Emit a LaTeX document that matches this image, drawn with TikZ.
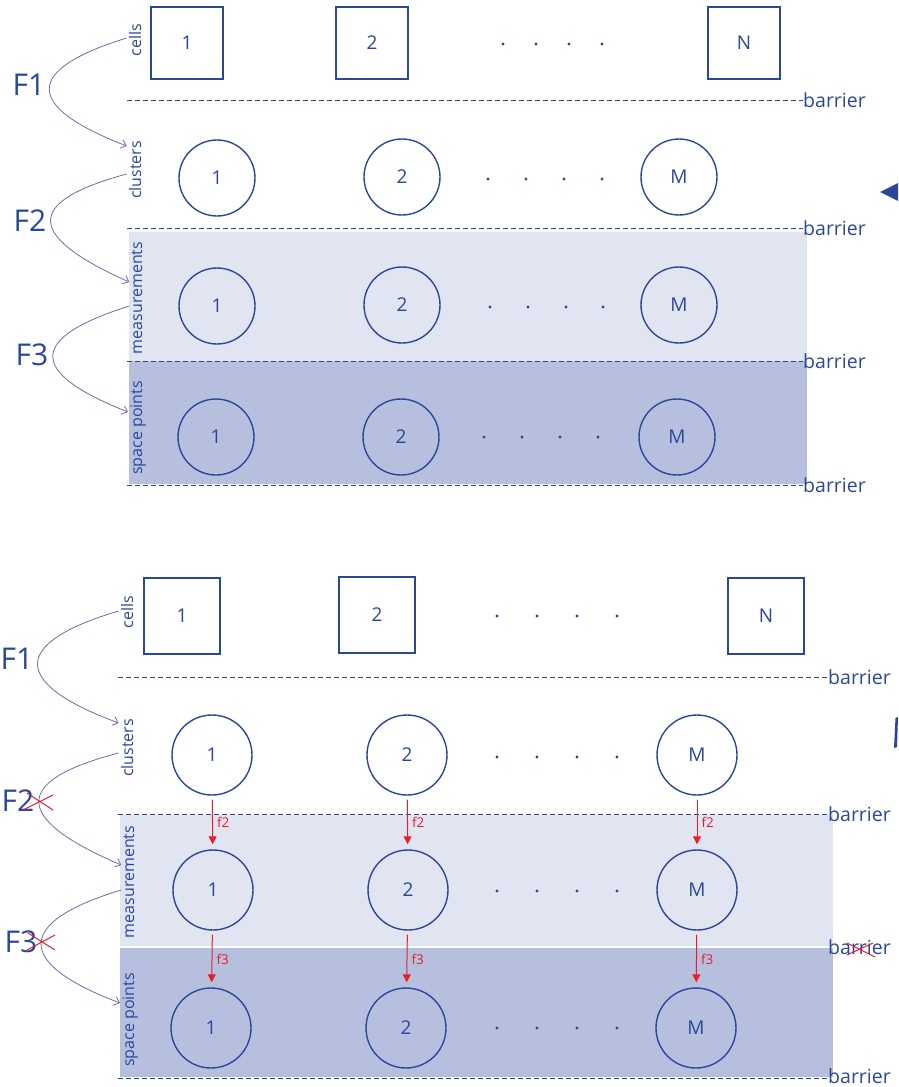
\documentclass[tikz,border=0pt]{standalone}
\usepackage{fontspec}
\setmainfont{Open Sans}
\usetikzlibrary{arrows.meta,calc}
\definecolor{ink}{RGB}{42,72,155}
\definecolor{flow}{RGB}{100,114,170}
\definecolor{bandlight}{RGB}{225,229,241}
\definecolor{banddark}{RGB}{182,192,222}
\definecolor{alert}{RGB}{232,30,40}
\newcommand{\fsz}[1]{\fontsize{#1}{#1}\selectfont}

\begin{document}
\begin{tikzpicture}[x=1pt,y=-1pt,
  every node/.style={text=ink, inner sep=0pt},
  cellbox/.style={draw=ink, line width=1.4pt, minimum size=#1, font=\fsz{19}},
  ring/.style={draw=ink, line width=1.4pt, circle, minimum size=#1, font=\fsz{19}},
  rowlabel/.style={rotate=90, anchor=base, inner sep=2pt, font=\fsz{16}},
  flowname/.style={font=\fsz{30}},
  barrierline/.style={draw=ink, line width=0.9pt, dash pattern=on 5pt off 3pt},
  barriertext/.style={anchor=west, font=\fsz{19.5}},
  flowarrow/.style={draw=flow, line width=0.8pt, -{Straight Barb[length=5pt,width=9pt]}},
  fixarrow/.style={draw=alert, line width=1pt, -{Triangle[length=8pt,width=8pt]}, shorten <=4pt, shorten >=5pt},
  fixtext/.style={text=alert, font=\fsz{13.5}, right=4pt},
  dotmark/.style={fill=ink, circle, inner sep=0pt, minimum size=3.2pt},
  strike/.style={draw=alert, line width=1pt},
]
\useasboundingbox (0,0) rectangle (898,1087);

% ---------- upper panel ----------
\fill[bandlight] (129,232) rectangle (807,361);
\fill[banddark]  (129,361) rectangle (807,484);

\node[rowlabel] (ulc) at (141,40)  {cells};
\node[rowlabel] (ulk) at (141,170) {clusters};
\node[rowlabel] (ulm) at (142,298) {measurements};
\node[rowlabel] (uls) at (142,428) {space points};

\node[cellbox=72pt] (uc1) at (187,43)  {1};
\node[cellbox=72pt] (uc2) at (372,43)  {2};
\node[cellbox=72pt] (ucN) at (744,43)  {N};
\foreach \x in {503,536,569,602} \node[dotmark] at (\x,44) {};

\node[ring=76pt] (uk1) at (217,178) {1};
\node[ring=76pt] (uk2) at (402,177) {2};
\node[ring=76pt] (ukM) at (679,177) {M};
\foreach \x in {488,526,564,602} \node[dotmark] at (\x,179) {};

\node[ring=76pt] (um1) at (217,306) {1};
\node[ring=76pt] (um2) at (402,305) {2};
\node[ring=76pt] (umM) at (679,305) {M};
\foreach \x in {490,528,566,603} \node[dotmark] at (\x,307) {};

\node[ring=76pt] (us1) at (216,437) {1};
\node[ring=76pt] (us2) at (401,437) {2};
\node[ring=76pt] (usM) at (677,437) {M};
\foreach \x in {484,522,560,598} \node[dotmark] at (\x,437) {};

\foreach \y/\n in {100/ub1,228/ub2,361/ub3,485/ub4}{
  \node[barriertext] (\n) at (803,\y) {barrier};
  \coordinate (\n s) at (127,\y);
  \draw[barrierline] (\n s) -- (\n.west);
}

\node[flowname] (uF1) at (29,85)  {F1};
\node[flowname] (uF2) at (30,221) {F2};
\node[flowname] (uF3) at (32,355) {F3};

\draw[flowarrow] ([yshift=2pt]ulc.north) .. controls +(-103,32) and +(-103,-40) .. ([yshift=24pt]ulk.north);
\draw[flowarrow] ([yshift=-4pt]ulk.north) .. controls +(-103,28) and +(-103,-46) .. ([yshift=16pt]ulm.north);
\draw[flowarrow] ([yshift=-8pt]ulm.north) .. controls +(-101,32) and +(-101,-40) .. ([yshift=16pt]uls.north);

\fill[ink] (880,192) -- (898,183) -- (898,201) -- cycle;

% ---------- lower panel ----------
\fill[bandlight] (120,815) rectangle (833,946);
\fill[banddark]  (120,948) rectangle (833,1077);

\node[rowlabel] (llc) at (133,612)  {cells};
\node[rowlabel] (llk) at (133,748)  {clusters};
\node[rowlabel] (llm) at (134,882)  {measurements};
\node[rowlabel] (lls) at (134,1020) {space points};

\node[cellbox=76pt] (lc1) at (182,616) {1};
\node[cellbox=76pt] (lc2) at (377,615) {2};
\node[cellbox=76pt] (lcN) at (766,616) {N};
\foreach \x in {497,537,577,617} \node[dotmark] at (\x,616) {};

\node[ring=80pt] (lk1) at (212,755) {1};
\node[ring=80pt] (lk2) at (407,755) {2};
\node[ring=80pt] (lkM) at (697,755) {M};
\foreach \x in {497,537,577,617} \node[dotmark] at (\x,757) {};

\node[ring=80pt] (lm1) at (213,890) {1};
\node[ring=80pt] (lm2) at (408,890) {2};
\node[ring=80pt] (lmM) at (697,890) {M};
\foreach \x in {497,537,577,617} \node[dotmark] at (\x,891) {};

\node[ring=80pt] (ls1) at (211,1028) {1};
\node[ring=80pt] (ls2) at (406,1028) {2};
\node[ring=80pt] (lsM) at (696,1028) {M};
\foreach \x in {497,537,577,617} \node[dotmark] at (\x,1028) {};

\foreach \y/\n in {677/lb1,814/lb2}{
  \node[barriertext] (\n) at (828,\y) {barrier};
  \coordinate (\n s) at (118,\y);
  \draw[barrierline] (\n s) -- (\n.west);
}
\node[barriertext] (lb4) at (828,1076) {barrier};
\coordinate (lb4s) at (118,1078);
\draw[barrierline] (lb4s) -- (lb4s -| lb4.west);

\node[barriertext] (lb3) at (828,947) {barrier};
\draw[strike] ([xshift=19pt,yshift=4pt]lb3.west) -- ([xshift=47pt,yshift=-10pt]lb3.west);
\draw[strike] ([xshift=19pt,yshift=-8pt]lb3.west) -- ([xshift=45pt,yshift=4pt]lb3.west);

\node[flowname] (lF1) at (17,659) {F1};
\node[flowname] (lF2) at (18,801) {F2};
\node[flowname] (lF3) at (21,942) {F3};

\draw[flowarrow] ([yshift=1pt]llc.north) .. controls +(-108,32) and +(-108,-40) .. ([yshift=25pt]llk.north);
\draw[flowarrow] ([yshift=-5pt]llk.north) .. controls +(-108,28) and +(-108,-46) .. ([yshift=17pt]llm.north);
\draw[flowarrow] ([yshift=-8pt]llm.north) .. controls +(-106,32) and +(-106,-40) .. ([yshift=17pt]lls.north);

\draw[strike] (23,810) -- (53,795);
\draw[strike] (27,793) -- (53,810);
\draw[strike] (27,950) -- (55,935);
\draw[strike] (28,933) -- (55,950);

\foreach \i in {1,2,M}{
  \draw[fixarrow] (lk\i) -- (lm\i) node[fixtext, midway] {f2};
  \draw[fixarrow] (lm\i) -- (ls\i) node[fixtext, midway] {f3};
}

\fill[ink] (895.5,718) -- (898,717) -- (897,747) -- (894,748) -- cycle;
\end{tikzpicture}
\end{document}
